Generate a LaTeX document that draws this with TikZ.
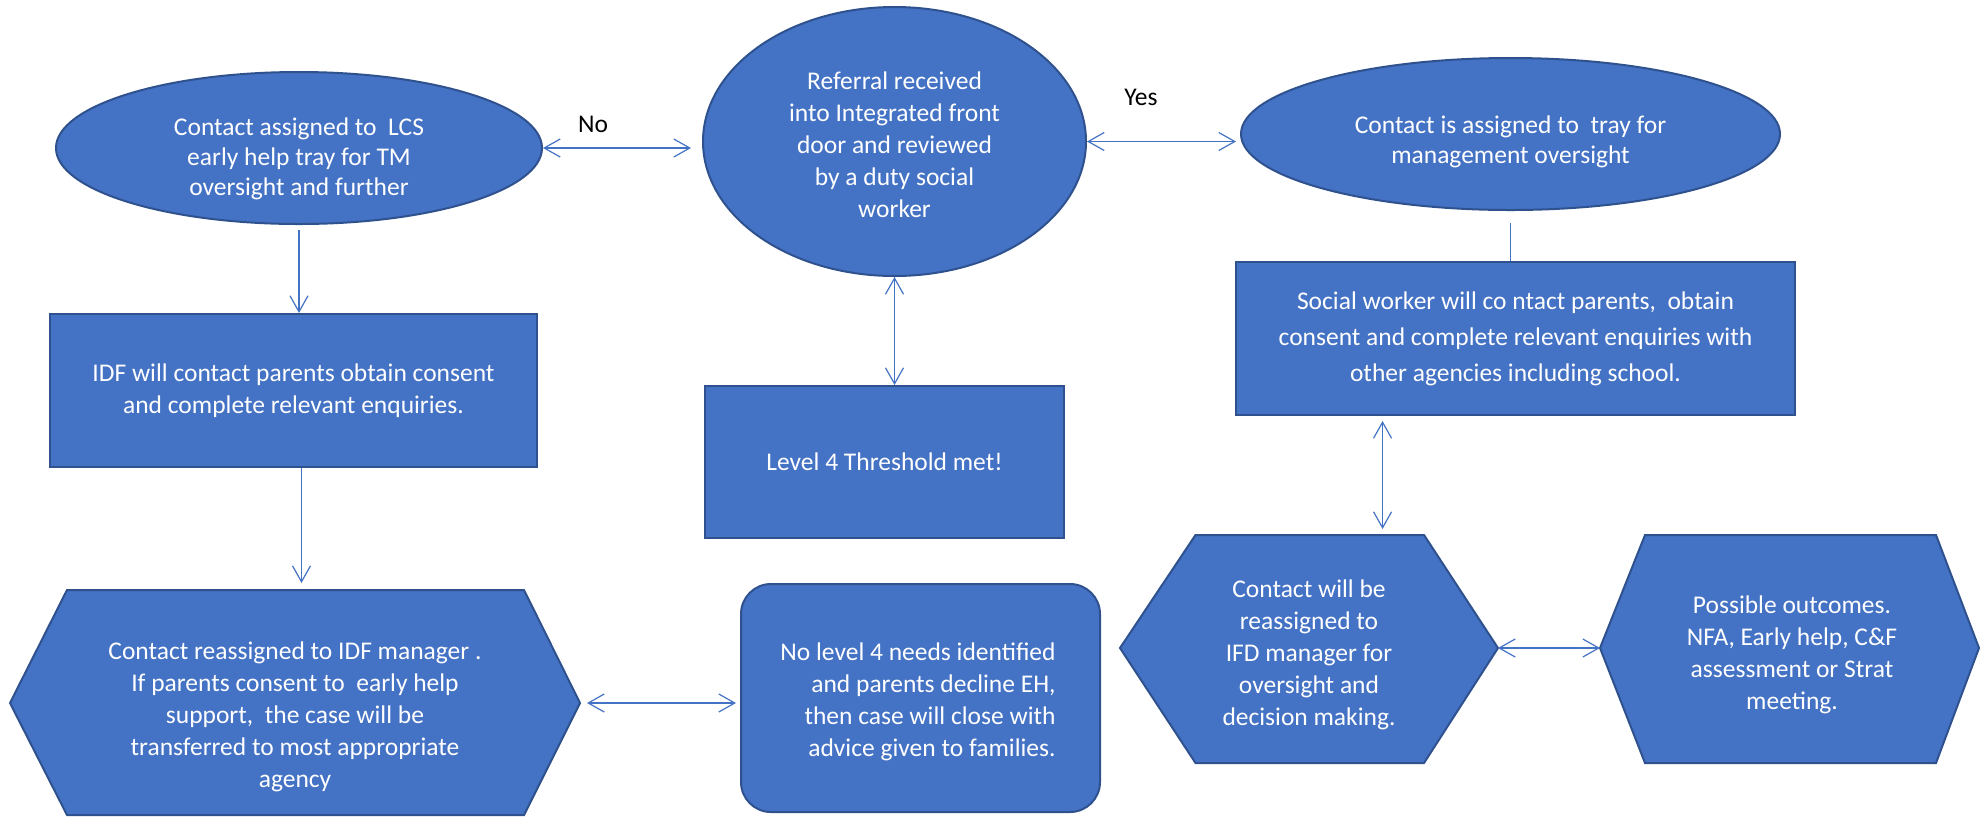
\documentclass[tikz,border=0pt]{standalone}
\usepackage{fontspec}
\setmainfont{Carlito}
\usetikzlibrary{arrows.meta,shapes.geometric,calc}
\definecolor{boxblue}{HTML}{4472C4}
\definecolor{edgeblue}{HTML}{2F528F}
\begin{document}
\begin{tikzpicture}[x=0.5pt,y=-0.5pt,
  every node/.style={font=\fontsize{12.75pt}{16pt}\selectfont},
  shp/.style={fill=boxblue,draw=edgeblue,line width=1pt,text=white,align=center,inner sep=0pt},
  oval/.style={shp,ellipse},
  rectbox/.style={shp,rectangle},
  hexa/.style={fill=boxblue,draw=edgeblue,line width=1pt,line join=miter},
  intext/.style={text=white,align=center,inner sep=0pt},
  arr/.style={draw=boxblue,line width=0.6pt,-{Straight Barb[length=8pt,width=9pt]}},
  darr/.style={draw=boxblue,line width=0.6pt,{Straight Barb[length=8pt,width=9pt]}-{Straight Barb[length=8pt,width=9pt]}},
  plainline/.style={draw=boxblue,line width=0.6pt},
  lbl/.style={text=black,inner sep=0pt}
]
\useasboundingbox (0,0) rectangle (1981,816);
\fill[white] (0,0) rectangle (1981,816);

% ellipses
\node[oval,minimum width=243pt,minimum height=76pt] (E1) at (299,148) {};
\node[intext,font=\fontsize{12.75pt}{14.9pt}\selectfont] (E1text) at (299,159)
  {Contact assigned to\ \ LCS\\early help tray for TM\\oversight and further};
\node[oval,minimum width=191.5pt,minimum height=134.5pt] (E2) at (894.5,141.5) {};
\node[intext] (E2text) at (894.5,144.5)
  {Referral received\\into Integrated front\\door and reviewed\\by a duty social\\worker};
\node[oval,minimum width=269.5pt,minimum height=76pt] (E3) at (1510.5,134) {};
\node[intext,font=\fontsize{12.75pt}{15pt}\selectfont] (E3text) at (1510.5,142)
  {Contact is assigned to\ \ tray for\\management oversight};

% rectangles
\node[rectbox,minimum width=243.5pt,minimum height=76.5pt] (IDF) at (293.5,390.5)
  {IDF will contact parents obtain consent\\and complete relevant enquiries.};
\node[rectbox,minimum width=179.5pt,minimum height=76pt] (L4) at (884.5,462)
  {Level 4 Threshold met!};
\node[rectbox,minimum width=279.5pt,minimum height=76.5pt,font=\fontsize{12.75pt}{18pt}\selectfont] (SW) at (1515.5,338.5)
  {Social worker will co ntact parents,\ \ obtain\\consent and complete relevant enquiries with\\other agencies including school.};
\node[rectbox,rounded corners=15pt,minimum width=179.5pt,minimum height=114pt] (NL) at (920.5,698) {};
\node[intext,align=right] (NLtext) at (918,702)
  {No level 4 needs identified\\and parents decline EH,\\then case will close with\\advice given to families.};

% hexagons
\coordinate (H1w) at (10,703);  \coordinate (H1e) at (580,703);  \coordinate (H1t) at (295,590);
\draw[hexa] (H1w) -- (67,590) -- (524,590) -- (H1e) -- (524,815) -- (67,815) -- cycle;
\node[intext] (H1) at (295,717)
  {Contact reassigned to IDF manager .\\If parents consent to\ \ early help\\support,\ \ the case will be\\transferred to most appropriate\\agency};

\coordinate (H2w) at (1120,648); \coordinate (H2e) at (1498,648); \coordinate (H2t) at (1309,535);
\draw[hexa] (H2w) -- (1195.5,535) -- (1424,535) -- (H2e) -- (1424,763) -- (1195.5,763) -- cycle;
\node[intext] (H2) at (1309,654.5)
  {Contact will be\\reassigned to\\IFD manager for\\oversight and\\decision making.};

\coordinate (H3w) at (1600,648); \coordinate (H3e) at (1979,648);
\draw[hexa] (H3w) -- (1645,535) -- (1936,535) -- (H3e) -- (1936,763) -- (1645,763) -- cycle;
\node[intext] (H3) at (1792,655)
  {Possible outcomes.\\NFA, Early help, C\&F\\assessment or Strat\\meeting.};

% labels
\node[lbl] (no) at (593,124) {No};
\node[lbl] (yes) at (1141,97) {Yes};

% connectors
\draw[darr,shorten >=5.5pt] (E1.east) -- (E1.east -| E2.west);
\draw[darr,shorten >=2pt] (E2.east) -- (E2.east -| E3.west);
\draw[arr,shorten <=2.5pt] (E1.south) -- (E1.south |- IDF.north);
\coordinate (a1) at ($(IDF.south)+(4pt,0)$);
\draw[arr,shorten >=3.5pt] (a1) -- (a1 |- H1t);
\draw[darr] (E2.south) -- (E2.south |- L4.north);
\draw[plainline,shorten <=6pt] (E3.south) -- (E3.south |- SW.north);
\coordinate (s1) at ($(SW.south west)!0.263!(SW.south east)$);
\draw[darr,shorten <=2.5pt,shorten >=3pt] (s1) -- (s1 |- H2t);
\draw[darr,shorten <=3.5pt,shorten >=2pt] (H1e) -- (H1e -| NL.west);
\draw[darr] (H2e) -- (H3w);
\end{tikzpicture}
\end{document}
